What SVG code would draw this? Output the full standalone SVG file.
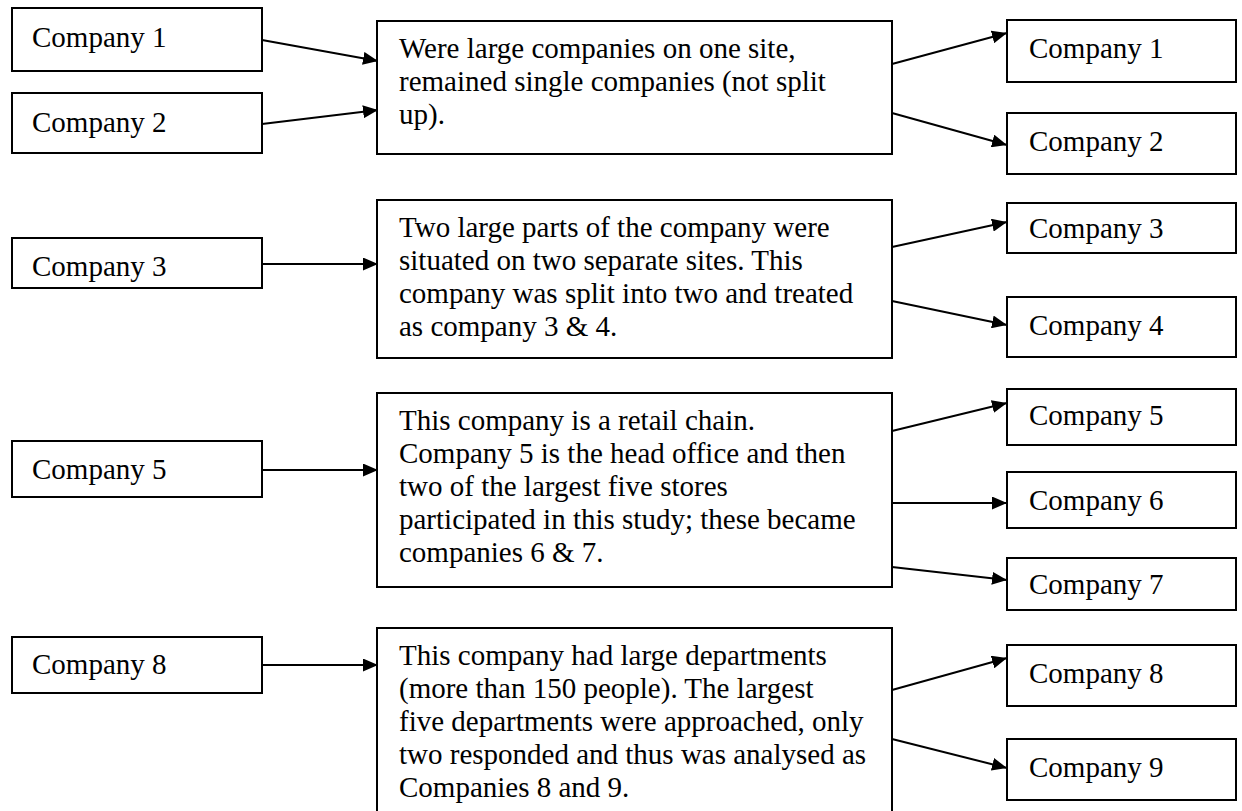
<svg xmlns="http://www.w3.org/2000/svg" width="1242" height="811" viewBox="0 0 1242 811">
  <defs>
    <marker id="arrow" markerUnits="userSpaceOnUse" markerWidth="16" markerHeight="13" refX="15" refY="6.5" orient="auto">
      <path d="M0,0 L15,6.5 L0,13 z" fill="#000"/>
    </marker>
    <style>
      rect { fill: #fff; stroke: #000; stroke-width: 2; }
      text { font-family: "Liberation Serif", "Times New Roman", serif; font-size: 29px; fill: #000; }
      .edge { stroke: #000; stroke-width: 2; fill: none; marker-end: url(#arrow); }
    </style>
  </defs>
  <rect x="0" y="0" width="1242" height="811" style="fill:#fff;stroke:none"/>

  <!-- connectors -->
  <g id="connectors">
    <line class="edge" x1="262" y1="40" x2="378" y2="61"/>
    <line class="edge" x1="262" y1="124" x2="378" y2="110"/>
    <line class="edge" x1="892" y1="64" x2="1007" y2="33"/>
    <line class="edge" x1="892" y1="113" x2="1007" y2="145"/>

    <line class="edge" x1="262" y1="264" x2="378" y2="264"/>
    <line class="edge" x1="892" y1="247" x2="1007" y2="222"/>
    <line class="edge" x1="892" y1="301" x2="1007" y2="325"/>

    <line class="edge" x1="262" y1="470" x2="378" y2="470"/>
    <line class="edge" x1="892" y1="431" x2="1007" y2="403"/>
    <line class="edge" x1="892" y1="503" x2="1007" y2="503"/>
    <line class="edge" x1="892" y1="567" x2="1007" y2="580"/>

    <line class="edge" x1="262" y1="665" x2="378" y2="665"/>
    <line class="edge" x1="892" y1="690" x2="1007" y2="658"/>
    <line class="edge" x1="892" y1="739" x2="1007" y2="768"/>
  </g>

  <!-- group 1 -->
  <g id="in-company-1"><rect x="12" y="8" width="250" height="63"/><text x="32" y="47">Company 1</text></g>
  <g id="in-company-2"><rect x="12" y="93" width="250" height="60"/><text x="32" y="132">Company 2</text></g>
  <g id="note-1">
    <rect x="377" y="21" width="515" height="133"/>
    <text x="399" y="58">Were large companies on one site,<tspan x="399" dy="33">remained single companies (not split</tspan><tspan x="399" dy="33">up).</tspan></text>
  </g>
  <g id="out-company-1"><rect x="1007" y="20" width="229" height="62"/><text x="1029" y="58">Company 1</text></g>
  <g id="out-company-2"><rect x="1007" y="113" width="229" height="61"/><text x="1029" y="151">Company 2</text></g>

  <!-- group 2 -->
  <g id="in-company-3"><rect x="12" y="238" width="250" height="50"/><text x="32" y="276">Company 3</text></g>
  <g id="note-2">
    <rect x="377" y="200" width="515" height="158"/>
    <text x="399" y="237">Two large parts of the company were<tspan x="399" dy="33">situated on two separate sites. This</tspan><tspan x="399" dy="33">company was split into two and treated</tspan><tspan x="399" dy="33">as company 3 &amp; 4.</tspan></text>
  </g>
  <g id="out-company-3"><rect x="1007" y="203" width="229" height="50"/><text x="1029" y="238">Company 3</text></g>
  <g id="out-company-4"><rect x="1007" y="297" width="229" height="60"/><text x="1029" y="335">Company 4</text></g>

  <!-- group 3 -->
  <g id="in-company-5"><rect x="12" y="441" width="250" height="56"/><text x="32" y="479">Company 5</text></g>
  <g id="note-3">
    <rect x="377" y="393" width="515" height="194"/>
    <text x="399" y="430">This company is a retail chain.<tspan x="399" dy="33">Company 5 is the head office and then</tspan><tspan x="399" dy="33">two of the largest five stores</tspan><tspan x="399" dy="33">participated in this study; these became</tspan><tspan x="399" dy="33">companies 6 &amp; 7.</tspan></text>
  </g>
  <g id="out-company-5"><rect x="1007" y="389" width="229" height="56"/><text x="1029" y="425">Company 5</text></g>
  <g id="out-company-6"><rect x="1007" y="472" width="229" height="56"/><text x="1029" y="510">Company 6</text></g>
  <g id="out-company-7"><rect x="1007" y="558" width="229" height="52"/><text x="1029" y="594">Company 7</text></g>

  <!-- group 4 -->
  <g id="in-company-8"><rect x="12" y="637" width="250" height="56"/><text x="32" y="674">Company 8</text></g>
  <g id="note-4">
    <rect x="377" y="628" width="515" height="200"/>
    <text x="399" y="665">This company had large departments<tspan x="399" dy="33">(more than 150 people). The largest</tspan><tspan x="399" dy="33">five departments were approached, only</tspan><tspan x="399" dy="33">two responded and thus was analysed as</tspan><tspan x="399" dy="33">Companies 8 and 9.</tspan></text>
  </g>
  <g id="out-company-8"><rect x="1007" y="645" width="229" height="61"/><text x="1029" y="683">Company 8</text></g>
  <g id="out-company-9"><rect x="1007" y="739" width="229" height="61"/><text x="1029" y="777">Company 9</text></g>
</svg>
